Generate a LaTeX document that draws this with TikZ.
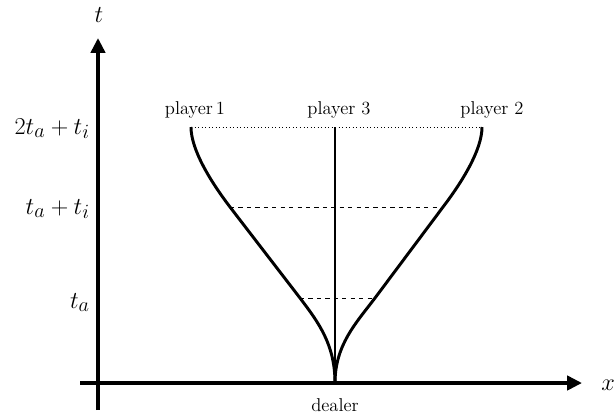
\documentclass[tikz,border=0pt]{standalone}
\usetikzlibrary{arrows.meta}
\begin{document}
\begin{tikzpicture}[x=0.025cm, y=-0.025cm]
  \tikzset{
    axis_line/.style={line width=2.6pt, -{Triangle[length=10.5pt, width=10pt]}},
    world_line/.style={line width=2.1pt},
    level_line/.style={line width=0.6pt, dashed},
    top_line/.style={line width=0.5pt, dotted},
    math_label/.style={font=\fontsize{19}{22}\selectfont, inner sep=0pt},
    player_label/.style={font=\fontsize{13.2}{15}\selectfont, inner sep=0pt, anchor=base}
  }
  \useasboundingbox (0,0) rectangle (616,417);

  % Ejes
  \coordinate (t_start) at (98,410);
  \coordinate (t_end) at (98,38);
  \coordinate (x_start) at (80,383);
  \coordinate (x_end) at (582,383);
  \draw[axis_line] (t_start) -- (t_end);
  \draw[axis_line] (x_start) -- (x_end);
  \node[math_label, anchor=base] (t_label) at (99,22) {$t$};
  \node[math_label, anchor=base] (x_label) at (608,390) {$x$};

  % Niveles de tiempo
  \node[math_label, anchor=base east] (lvl_top) at (90,134) {$2t_a+t_i$};
  \node[math_label, anchor=base east] (lvl_mid) at (90,214) {$t_a+t_i$};
  \node[math_label, anchor=base east] (lvl_low) at (90,308) {$t_a$};

  % Puntos de las trayectorias
  \coordinate (dealer) at (335,383);
  \coordinate (p1_a) at (300,298);
  \coordinate (p1_b) at (230,207);
  \coordinate (p1_top) at (191,127);
  \coordinate (p2_a) at (375,298);
  \coordinate (p2_b) at (443,207);
  \coordinate (p2_top) at (482,127);
  \coordinate (p3_top) at (335,127);

  % Líneas horizontales
  \draw[top_line] (p1_top) -- (p2_top);
  \draw[level_line] (p1_b) -- (p2_b);
  \draw[level_line] (p1_a) -- (p2_a);

  % Trayectorias de los jugadores
  \draw[world_line] (dealer) .. controls (335,345) and (319,323) .. (p1_a)
    -- (p1_b) .. controls (211,182) and (191,150) .. (p1_top);
  \draw[world_line] (dealer) .. controls (335,345) and (356,323) .. (p2_a)
    -- (p2_b) .. controls (462,182) and (482,150) .. (p2_top);
  \draw[world_line] (dealer) -- (p3_top);

  % Etiquetas
  \node[player_label] (player1) at (195,114) {player\,1};
  \node[player_label] (player3) at (339,114) {player~3};
  \node[player_label] (player2) at (492,114) {player~2};
  \node[player_label] (dealer_label) at (335,411) {dealer};
\end{tikzpicture}
\end{document}
